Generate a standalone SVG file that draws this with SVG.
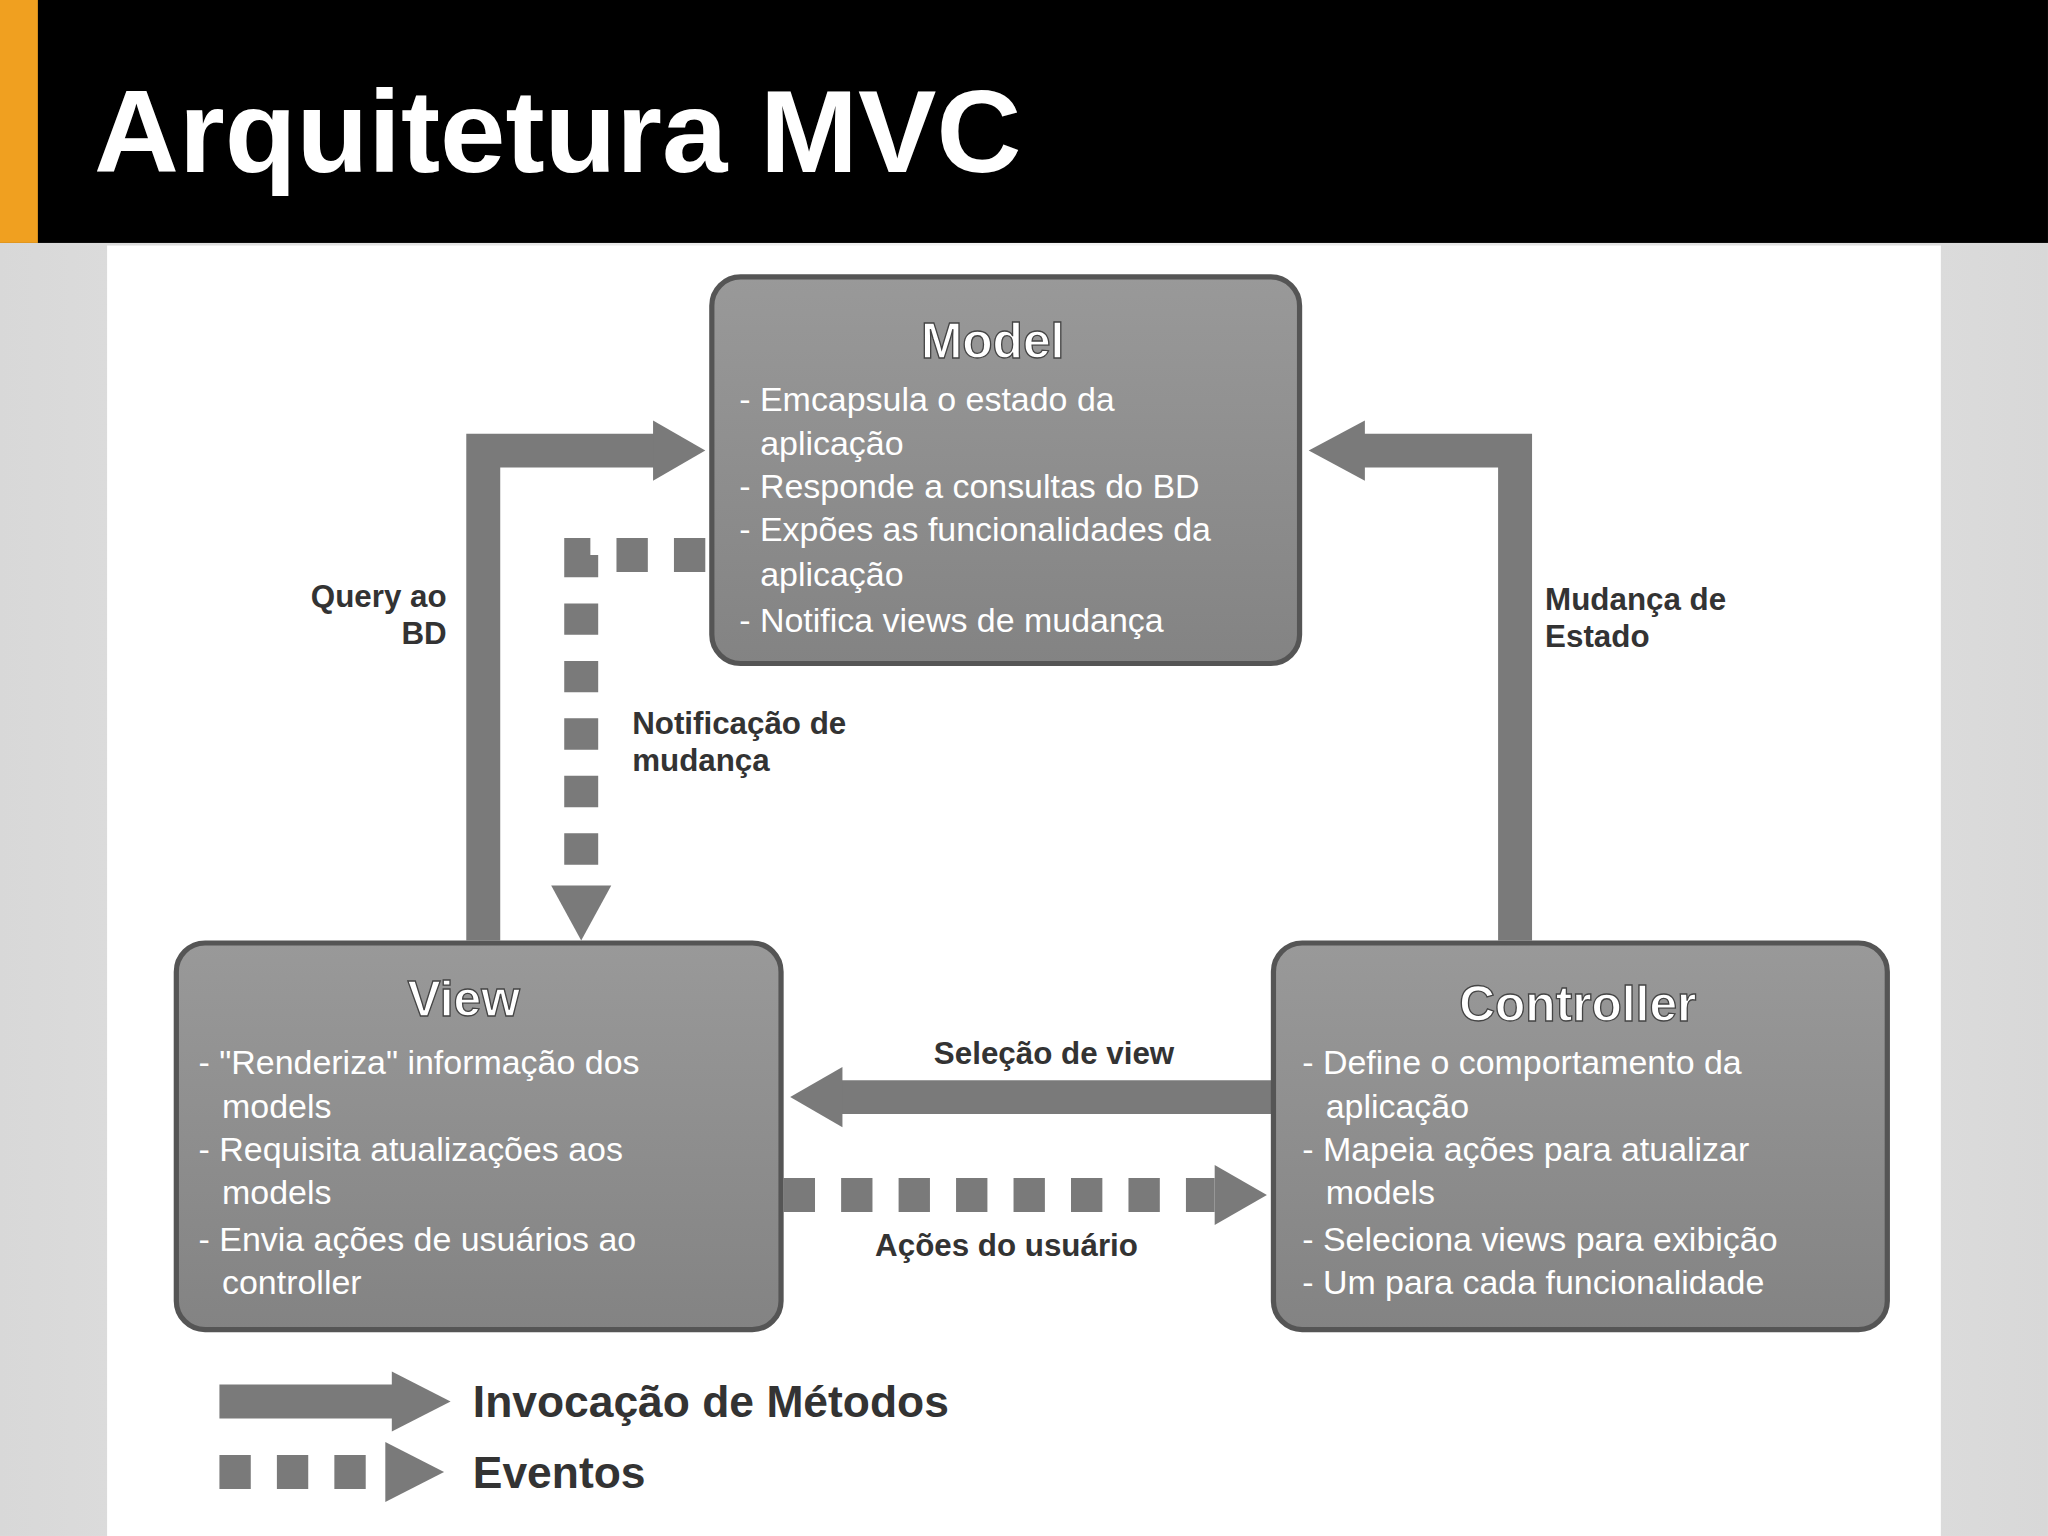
<svg xmlns="http://www.w3.org/2000/svg" width="2048" height="1536" viewBox="0 0 2048 1536">
<defs>
<linearGradient id="bg" x1="0" y1="0" x2="1" y2="0"><stop offset="0" stop-color="#d8d8d8"/><stop offset="0.5" stop-color="#f4f4f4"/><stop offset="1" stop-color="#d8d8d8"/></linearGradient>
<linearGradient id="box" x1="0" y1="0" x2="0" y2="1"><stop offset="0" stop-color="#999"/><stop offset="1" stop-color="#838383"/></linearGradient>
<style>
.box{fill:url(#box);stroke:#555;stroke-width:4}
.t{font-family:"Liberation Sans",Arial,sans-serif;font-weight:bold;fill:#fff;font-size:38px;text-anchor:middle;stroke:#444;stroke-width:1}
.b{font-family:"Liberation Sans",Arial,sans-serif;fill:#fff;font-size:26px}
.l{font-family:"Liberation Sans",Arial,sans-serif;font-weight:bold;fill:#333;font-size:24px}
.s{fill:none;stroke:#7a7a7a;stroke-width:26}
.d{fill:none;stroke:#7a7a7a;stroke-width:26;stroke-dasharray:24 20}
.h{fill:#7a7a7a}
</style>
</defs>
<g transform="scale(1.3061)">
<rect width="1568" height="1176" fill="url(#bg)"/>
<rect width="1568" height="186" fill="#000"/>
<rect width="29" height="186" fill="#f0a020"/>
<text x="72" y="132" font-family="Liberation Sans,Arial,sans-serif" font-weight="bold" font-size="90" fill="#fff">Arquitetura MVC</text>
<rect x="82" y="188" width="1404" height="988" fill="#fff"/>
<g id="connectors">
<path class="s" d="M370 720 V345 H505"/><polygon class="h" points="500,322 540,345 500,368"/>
<path class="s" d="M1160 720 V345 H1040"/><polygon class="h" points="1045,322 1002,345 1045,368"/>
<path class="d" d="M540 425 H445 V680"/><polygon class="h" points="422,678 468,678 445,720"/>
<path class="s" d="M975 840 H640"/><polygon class="h" points="645,817 605,840 645,863"/>
<path class="d" d="M600 915 H930"/><polygon class="h" points="930,892 970,915 930,938"/>
<text class="l" x="342" y="465" text-anchor="end">Query ao</text><text class="l" x="342" y="493" text-anchor="end">BD</text>
<text class="l" x="1183" y="467">Mudança de</text><text class="l" x="1183" y="495">Estado</text>
<text class="l" x="484" y="562">Notificação de</text><text class="l" x="484" y="590">mudança</text>
<text class="l" x="715" y="815">Seleção de view</text>
<text class="l" x="670" y="962">Ações do usuário</text>
</g>
<g id="model"><rect class="box" x="545" y="212" width="450" height="296" rx="22"/>
<text class="t" x="760" y="274">Model</text>
<text class="b" x="566" y="315">- Emcapsula o estado da</text><text class="b" x="582" y="348">aplicação</text>
<text class="b" x="566" y="381">- Responde a consultas do BD</text>
<text class="b" x="566" y="414">- Expões as funcionalidades da</text><text class="b" x="582" y="449">aplicação</text>
<text class="b" x="566" y="484">- Notifica views de mudança</text></g>
<g id="view"><rect class="box" x="135" y="722" width="463" height="296" rx="22"/>
<text class="t" x="355" y="778">View</text>
<text class="b" x="152" y="822">- "Renderiza" informação dos</text><text class="b" x="170" y="856">models</text>
<text class="b" x="152" y="889">- Requisita atualizações aos</text><text class="b" x="170" y="922">models</text>
<text class="b" x="152" y="958">- Envia ações de usuários ao</text><text class="b" x="170" y="991">controller</text></g>
<g id="controller"><rect class="box" x="975" y="722" width="470" height="296" rx="22"/>
<text class="t" x="1208" y="782">Controller</text>
<text class="b" x="997" y="822">- Define o comportamento da</text><text class="b" x="1015" y="856">aplicação</text>
<text class="b" x="997" y="889">- Mapeia ações para atualizar</text><text class="b" x="1015" y="922">models</text>
<text class="b" x="997" y="958">- Seleciona views para exibição</text>
<text class="b" x="997" y="991">- Um para cada funcionalidade</text></g>
<g id="legend">
<path class="s" d="M168 1073 H305"/><polygon class="h" points="300,1050 345,1073 300,1096"/>
<path class="d" d="M168 1127 H290"/><polygon class="h" points="295,1104 340,1127 295,1150"/>
<text class="l" x="362" y="1085" font-size="34" style="font-size:34px">Invocação de Métodos</text>
<text class="l" x="362" y="1139" style="font-size:34px">Eventos</text>
</g>
</g>
</svg>
